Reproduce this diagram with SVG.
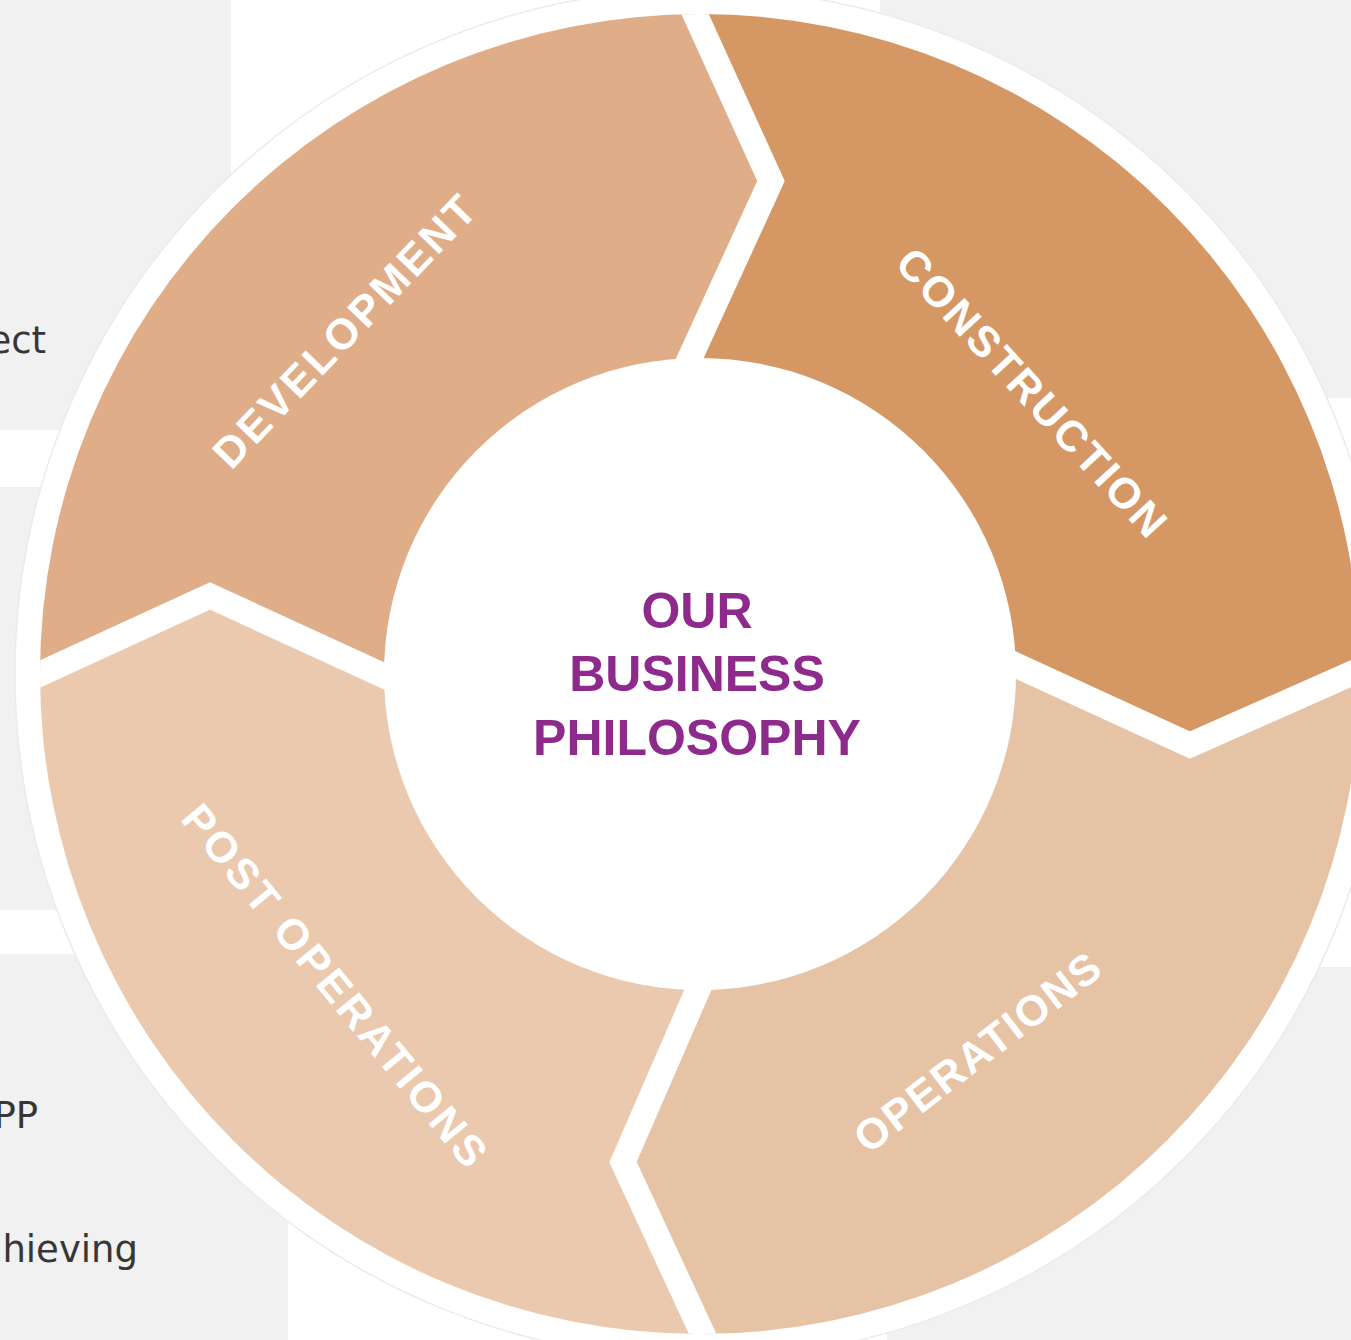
<svg xmlns="http://www.w3.org/2000/svg" width="1351" height="1340" viewBox="0 0 1351 1340">
  <style>
    .panel { fill: #f1f1f1; }
    .side { font-family: "DejaVu Sans", "Open Sans", sans-serif; font-size: 37px; fill: #363636; text-anchor: end; }
    .lbl { font-family: "Liberation Sans", Arial, sans-serif; font-weight: bold; font-size: 43px; fill: #ffffff; text-anchor: middle; }
    .ctr { font-family: "Liberation Sans", Arial, sans-serif; font-weight: bold; font-size: 50px; fill: #8e2a8c; text-anchor: middle; }
    .sep { fill: none; stroke: #ffffff; stroke-width: 25; stroke-linejoin: miter; stroke-miterlimit: 10; }
  </style>
  <defs>
    <clipPath id="ring">
      <circle cx="700" cy="674" r="660"/>
    </clipPath>
  </defs>

  <rect x="0" y="0" width="1351" height="1340" fill="#ffffff"/>

  <g id="background-panels">
    <rect class="panel" x="0" y="0" width="231" height="430"/>
    <rect class="panel" x="0" y="487" width="300" height="423"/>
    <rect class="panel" x="0" y="954" width="288" height="386"/>
    <rect class="panel" x="880" y="0" width="471" height="398"/>
    <rect class="panel" x="887" y="967" width="464" height="373"/>
  </g>

  <g id="side-texts">
    <text class="side" x="46" y="353">ect</text>
    <text class="side" x="38" y="1128">PP</text>
    <text class="side" x="138" y="1262">hieving</text>
  </g>

  <circle id="outer-ring" cx="700" cy="674" r="685" fill="#ffffff" stroke="#ebebeb" stroke-width="1.5"/>

  <g clip-path="url(#ring)">
    <g id="development">
      <path d="M700,674 L428,696 L210,596 L-10,697 L-10,-30 L675,-30 L771,181 L667,408 Z" fill="#dfae88"/>
    </g>
    <g id="construction">
      <path d="M700,674 L667,408 L771,181 L675,-30 L1400,-30 L1400,652 L1190,745 L972,645 Z" fill="#d59763"/>
    </g>
    <g id="operations">
      <path d="M700,674 L972,645 L1190,745 L1400,652 L1400,1380 L724,1380 L623,1162 L710,962 Z" fill="#e7c3a6"/>
    </g>
    <g id="post-operations">
      <path d="M700,674 L710,962 L623,1162 L724,1380 L-10,1380 L-10,697 L210,596 L428,696 Z" fill="#eac9af"/>
    </g>
    <g id="separators">
      <polyline class="sep" points="675,-30 771,181 667,408"/>
      <polyline class="sep" points="972,645 1190,745 1400,652"/>
      <polyline class="sep" points="710,962 623,1162 724,1380"/>
      <polyline class="sep" points="428,696 210,596 -10,697"/>
    </g>
  </g>

  <g id="center">
    <circle cx="700" cy="674" r="316" fill="#ffffff"/>
    <text class="ctr" x="697" y="628">OUR</text>
    <text class="ctr" x="697" y="691">BUSINESS</text>
    <text class="ctr" x="697" y="755">PHILOSOPHY</text>
  </g>

  <g id="labels">
    <text class="lbl" x="344" y="331" dy="0.36em" transform="rotate(-46.2 344 331)" textLength="358" lengthAdjust="spacing">DEVELOPMENT</text>
    <text class="lbl" x="1032" y="392" dy="0.36em" transform="rotate(47.3 1032 392)" textLength="375" lengthAdjust="spacing">CONSTRUCTION</text>
    <text class="lbl" x="977" y="1052" dy="0.36em" transform="rotate(-37.5 977 1052)" textLength="298" lengthAdjust="spacing">OPERATIONS</text>
    <text class="lbl" x="335" y="985" dy="0.36em" transform="rotate(50.7 335 985)" textLength="454" lengthAdjust="spacing">POST OPERATIONS</text>
  </g>
</svg>
